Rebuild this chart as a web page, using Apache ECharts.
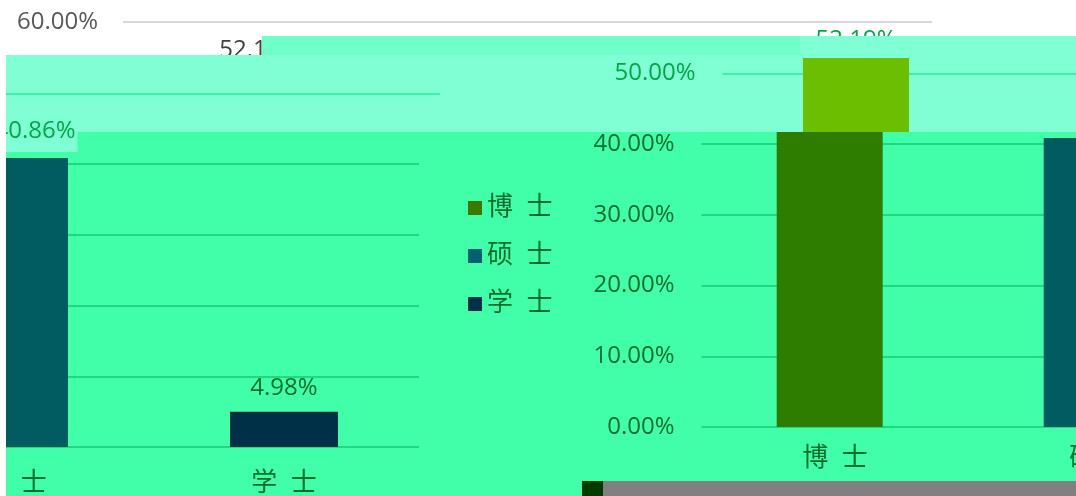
<!DOCTYPE html>
<html>
<head>
<meta charset="utf-8">
<style>
  html, body { margin: 0; padding: 0; background: #fff; }
  #chart { width: 1076px; height: 496px; }
</style>
<script src="https://cdn.jsdelivr.net/npm/echarts@6/dist/echarts.min.js"></script>
</head>
<body>
<div id="chart"></div>
<script>
const categories = ['博 士', '硕 士', '学 士'];
const shares = [52.19, 40.86, 4.98];
const yStep = 10;

const degreeColors = ['#2E7D00', '#005C60', '#003048'];
const legendColors = ['#3C7800', '#006070', '#00304A'];
const MINT = '#80FFD4';
const BRIGHT = '#40FFA8';
const DARK_TEXT = '#0B6E2C';
const MINT_TEXT = '#00A846';
const PX = 7.07; // pixels per 1%
const FONT = "'Open Sans', 'Noto Sans CJK SC', sans-serif";
const pct = v => v.toFixed(2) + '%';
const wide = s => s.replace(' ', '  ');

const chart = echarts.init(document.getElementById('chart'));

const grids = [], xAxes = [], yAxes = [], series = [];

// each piece of the collage is its own grid, all on the same % scale
function addPiece(p) {
  const i = grids.length;
  grids.push({ left: p.left, top: p.top, width: p.width, height: p.zeroY - p.top, outerBoundsMode: 'none', containLabel: false });
  xAxes.push({
    type: 'category', gridIndex: i, data: categories, z: p.z,
    axisLine: { show: false }, axisTick: { show: false },
    axisLabel: p.xLabel
      ? Object.assign({ show: true, fontFamily: FONT, fontSize: 26, color: DARK_TEXT, formatter: wide }, p.xLabel)
      : { show: false }
  });
  yAxes.push({
    type: 'value', gridIndex: i, min: 0, max: p.max, interval: yStep, z: p.z,
    axisLine: { show: false }, axisTick: { show: false },
    axisLabel: p.yLabel
      ? Object.assign({ show: true, fontFamily: FONT, fontSize: 24, formatter: pct, showMaxLabel: p.showMax !== false }, p.yLabel)
      : { show: false },
    splitLine: { showMaxLine: p.showMax !== false, lineStyle: { color: p.lineColor, width: 2 } }
  });
  series.push(Object.assign({
    type: 'bar', xAxisIndex: i, yAxisIndex: i, z: p.z + 1,
    label: { show: true, position: 'top', fontFamily: FONT, fontSize: 24, color: DARK_TEXT, formatter: q => pct(q.value) }
  }, p.series));
}

// original chart underneath (only its top survives)
addPiece({
  left: 123, width: 809, top: 22, zeroY: 446, max: 60, z: 0, lineColor: '#D9D9D9',
  yLabel: { color: '#595959', margin: 25 },
  series: {
    data: shares, barWidth: 100, itemStyle: { color: '#4472C4' },
    label: { show: true, position: 'top', fontFamily: FONT, fontSize: 24, color: '#404040', offset: [2, -10], formatter: q => pct(q.value) }
  }
});

// mint band copies
addPiece({
  left: -370, width: 810, top: 447 - 50 * PX, zeroY: 447, max: 50, z: 3, lineColor: '#40F0AA',
  series: { data: shares, barWidth: 108, itemStyle: { color: p => degreeColors[p.dataIndex] }, label: { show: false } }
});
addPiece({
  left: 722.5, width: 801, top: 427 - 50 * PX, zeroY: 427, max: 50, z: 3, lineColor: '#40F0AA',
  yLabel: { color: MINT_TEXT, margin: 27 },
  series: {
    data: shares, barWidth: 106, clip: false, itemStyle: { color: '#6CBE00' },
    label: { show: true, position: 'top', fontFamily: FONT, fontSize: 24, color: MINT_TEXT, offset: [0, -1], formatter: q => pct(q.value) }
  }
});

// bright band copies
addPiece({
  left: -391, width: 810, top: 132, zeroY: 447, max: (447 - 132) / PX, z: 6, lineColor: '#20D782', showMax: false,
  xLabel: { margin: 24 },
  series: {
    barWidth: 108,
    label: { show: true, position: 'top', fontFamily: FONT, fontSize: 24, color: DARK_TEXT, offset: [0, -7], formatter: q => pct(q.value) },
    data: shares.map((v, i) => ({
      value: v,
      itemStyle: { color: degreeColors[i] },
      label: i === 1
        ? { color: MINT_TEXT, backgroundColor: MINT, padding: [0, 2, 9, 2], offset: [21, -1] }
        : {}
    }))
  }
});
addPiece({
  left: 701.5, width: 801, top: 132, zeroY: 427, max: (427 - 132) / PX, z: 6, lineColor: '#20D782', showMax: false,
  yLabel: { color: DARK_TEXT, margin: 27 },
  xLabel: { margin: 19 },
  series: { data: shares, barWidth: 106, itemStyle: { color: p => degreeColors[p.dataIndex] }, label: { show: false } }
});

// legend entries
categories.forEach((name, i) => {
  series.push({ type: 'bar', name, xAxisIndex: 4, yAxisIndex: 4, data: [], itemStyle: { color: legendColors[i] } });
});

chart.setOption({
  animation: false,
  grid: grids,
  xAxis: xAxes,
  yAxis: yAxes,
  series: series,
  legend: {
    data: categories, orient: 'vertical', left: 468, top: 195, z: 8, padding: 0,
    icon: 'rect', itemWidth: 14, itemHeight: 14, itemGap: 22,
    formatter: wide,
    textStyle: { fontFamily: FONT, fontSize: 26, color: DARK_TEXT }
  },
  graphic: [
    { type: 'rect', z: 2, shape: { x: 6, y: 55, width: 1070, height: 77 }, style: { fill: MINT } },
    { type: 'rect', z: 2, shape: { x: 262, y: 36, width: 538, height: 19 }, style: { fill: '#70FFCA' } },
    // this strip sits over the mint copy, so only the top of its label shows
    { type: 'rect', z: 4.5, shape: { x: 800, y: 36, width: 276, height: 19 }, style: { fill: MINT } },
    { type: 'rect', z: 5, shape: { x: 6, y: 132, width: 1070, height: 364 }, style: { fill: BRIGHT } },
    { type: 'rect', z: 9, shape: { x: 582, y: 481, width: 494, height: 15 }, style: { fill: '#808080' } },
    { type: 'rect', z: 9, shape: { x: 582, y: 481, width: 21, height: 15 }, style: { fill: '#003C00' } },
    { type: 'rect', z: 10, shape: { x: 0, y: 0, width: 6, height: 496 }, style: { fill: '#fff' } }
  ]
});
</script>
</body>
</html>
